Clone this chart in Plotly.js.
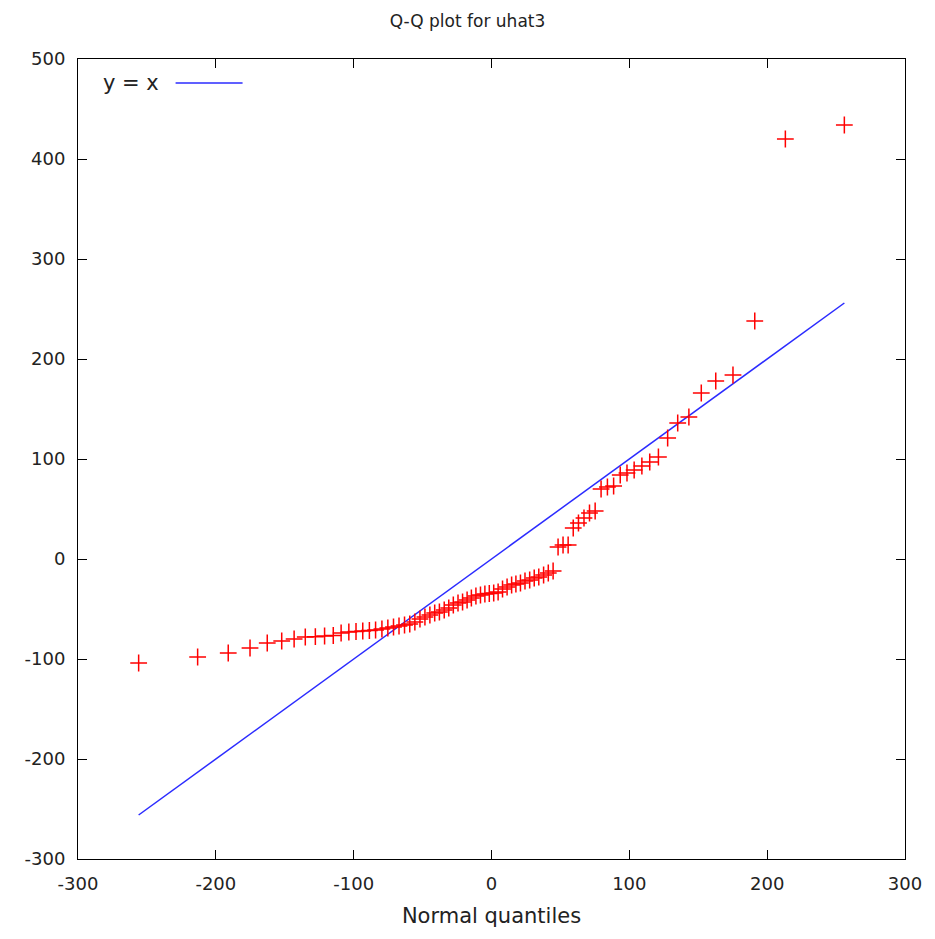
<!DOCTYPE html>
<html>
<head>
<meta charset="utf-8">
<script src="https://cdn.plot.ly/plotly-3.0.1.min.js"></script>
<style>html,body{margin:0;padding:0;background:#fff;}#chart{width:935px;height:939px;}</style>
</head>
<body>
<div id="chart"></div>
<script>
// Normal quantiles (x) and residual quantiles (y)
const quantX = [-256, -213.2, -191, -175.2, -162.7, -152.2, -143.2, -135.1, -127.8, -121.1,
  -114.8, -109.1, -103.5, -98.3, -93.4, -88.6, -84.1, -79.5, -75.2, -71.1,
  -67.1, -63.1, -59.3, -55.6, -51.9, -48.3, -44.7, -41.2, -37.8, -34.3,
  -31.0, -27.7, -24.3, -21.0, -17.7, -14.6, -11.3, -8.0, -4.8, -1.6,
  1.6, 4.8, 8.0, 11.3, 14.6, 17.7, 21.0, 24.3, 27.7, 31.0,
  34.3, 37.8, 41.2, 44.7, 48.3, 51.9, 55.6, 59.3, 63.1, 67.1,
  71.1, 75.2, 79.5, 84.1, 88.6, 93.4, 98.3, 103.5, 109.1, 114.8,
  121.1, 127.8, 135.1, 143.2, 152.2, 162.7, 175.2, 191, 213.2, 256];
const quantY = [-104, -98, -94, -89, -84, -82, -80, -78, -77.7, -77,
  -76.5, -74, -73, -72.5, -72, -71.5, -71, -70, -69, -68,
  -67, -66, -65, -63, -60, -58, -56, -54, -53, -51,
  -49, -46, -44, -43, -41, -39, -37, -36, -35, -34.5,
  -34, -33, -30, -28, -26, -25, -24, -22, -21, -19,
  -18, -16, -14, -12, 12, 14, 14, 31, 36, 41,
  46, 48, 70, 72, 73, 84, 86, 89, 93, 97,
  102, 121, 136, 142, 166, 178, 184, 238, 420, 434];
// y = x reference line endpoints
const lineX = [-256, 256];
const lineY = [-256, 256];
const xTicks = [-300, -200, -100, 0, 100, 200, 300];
const xTickText = ['-300', '-200', '-100', '0', '100', '200', '300'];
const yTicks = [-300, -200, -100, 0, 100, 200, 300, 400, 500];
const yTickText = ['-300', '-200', '-100', '0', '100', '200', '300', '400', '500'];

const fam = 'DejaVu Sans, Verdana, sans-serif';
const tickFont = {family: fam, size: 18, color: '#222'};
const labelFont = {family: fam, size: 21, color: '#222'};
const titleFont = {family: fam, size: 17, color: '#222'};

const traces = [
  {x: lineX, y: lineY, mode: 'lines', type: 'scatter', name: 'y = x',
   line: {color: '#2b2bff', width: 1.5}, showlegend: false, hoverinfo: 'skip'},
  {x: quantX, y: quantY, mode: 'markers', type: 'scatter', name: 'uhat3',
   marker: {symbol: 'cross-thin', size: 12, color: '#ff0000', line: {color: '#ff0000', width: 1.5}},
   showlegend: false}
];

const axisCommon = {
  showgrid: false, zeroline: false, showline: true, linecolor: '#000', linewidth: 1,
  mirror: 'ticks', ticks: 'inside', ticklen: 9, tickcolor: '#000', tickwidth: 1,
  tickfont: tickFont, tickmode: 'array'
};

const layout = {
  width: 935, height: 939,
  margin: {l: 78, r: 30, t: 59, b: 80},
  paper_bgcolor: '#fff', plot_bgcolor: '#fff',
  font: tickFont,
  title: {text: 'Q-Q plot for uhat3', x: 0.5, xref: 'container', y: 0.978, yanchor: 'middle', font: titleFont},
  xaxis: Object.assign({}, axisCommon, {range: [-300, 300], tickvals: xTicks, ticktext: xTickText,
    ticklabelstandoff: 8,
    title: {text: 'Normal quantiles', font: labelFont, standoff: 15}}),
  yaxis: Object.assign({}, axisCommon, {range: [-300, 500], tickvals: yTicks, ticktext: yTickText,
    ticklabelstandoff: 8}),
  showlegend: false,
  annotations: [
    {xref: 'paper', yref: 'paper', x: 0.1, y: 0.97, xanchor: 'right', yanchor: 'middle',
     text: 'y = x', showarrow: false, font: labelFont}
  ],
  shapes: [
    {type: 'line', xref: 'paper', yref: 'paper', x0: 0.118, x1: 0.199, y0: 0.97, y1: 0.97,
     line: {color: '#2b2bff', width: 1.5}}
  ]
};

Plotly.newPlot('chart', traces, layout, {displayModeBar: false, staticPlot: true});
</script>
</body>
</html>
